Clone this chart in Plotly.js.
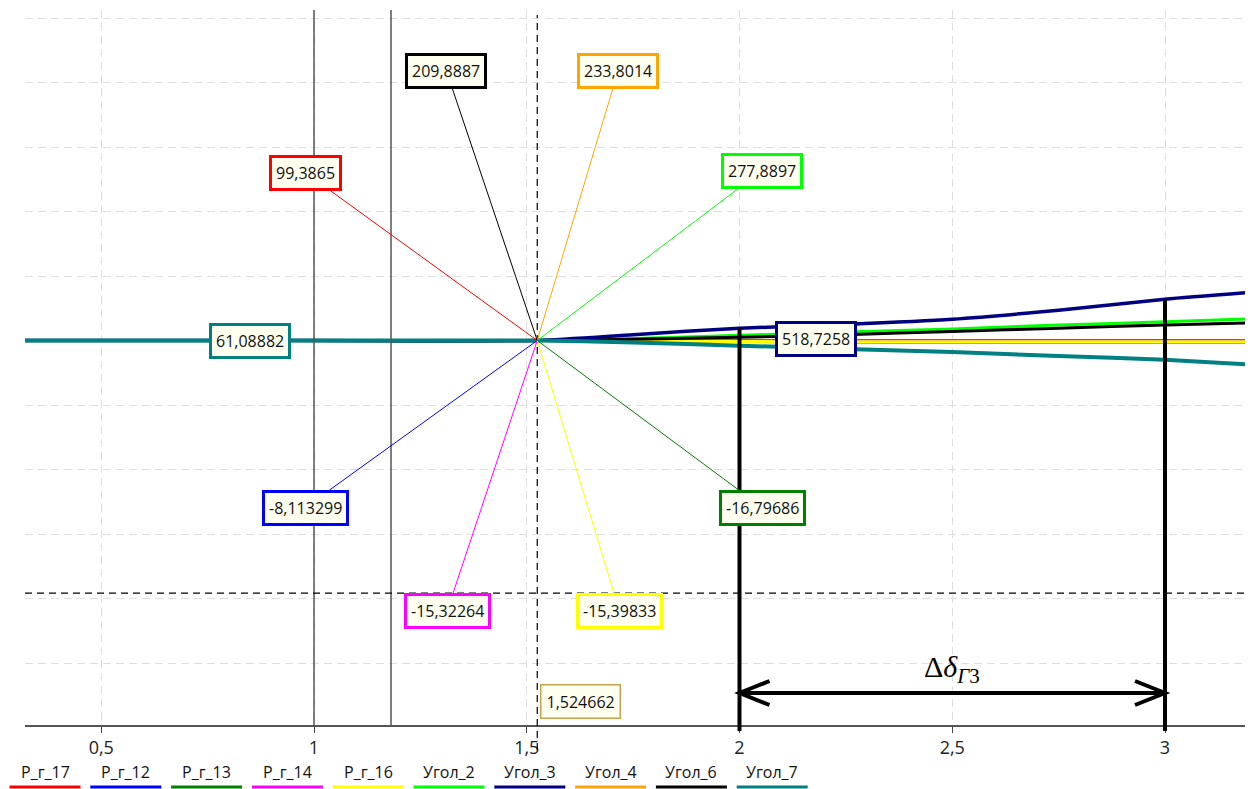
<!DOCTYPE html>
<html><head><meta charset="utf-8">
<script src="https://cdn.plot.ly/plotly-3.0.1.min.js"></script>
<style>html,body{margin:0;padding:0;background:#fff;overflow:hidden;} #chart{width:1251px;height:789px;}</style>
</head><body><div id="chart"></div>
<script>
// ---------- data ----------
const seriesNames  = ['Р_г_17','Р_г_12','Р_г_13','Р_г_14','Р_г_16','Угол_2','Угол_3','Угол_4','Угол_6','Угол_7'];
const seriesColors = ['#ff0000','#0000ff','#008000','#ff00ff','#ffff00','#00ff00','#000080','#ffa500','#000000','#008080'];
const xValues = [0.3, 1.0, 1.524662, 1.75, 2.0, 2.25, 2.5, 2.75, 3.0, 3.25];
const P_g_17 = [0, 0, 0, -0.01, -0.02, -0.03, -0.035, -0.035, -0.035, -0.035];
const P_g_12 = [0, 0, 0, 0, 0, 0, 0, 0, 0, 0];
const P_g_13 = [0, 0, 0, 0, 0, 0, 0, 0, 0, 0];
const P_g_14 = [0, 0, 0, 0, 0, 0, 0, 0, 0, 0];
const P_g_16 = [0, 0, 0, -0.01, -0.015, -0.02, -0.02, -0.02, -0.02, -0.02];
const Ugol_2 = [0, 0, 0, 0.03, 0.08, 0.13, 0.18, 0.24, 0.29, 0.35];
const Ugol_3 = [0, 0, 0, 0.09, 0.19, 0.25, 0.33, 0.47, 0.64, 0.77];
const Ugol_4 = [0, 0, 0, -0.015, -0.025, -0.03, -0.03, -0.03, -0.03, -0.03];
const Ugol_6 = [0, 0, 0, 0.02, 0.05, 0.09, 0.14, 0.19, 0.24, 0.28];
const Ugol_7 = [0, 0, 0, -0.03, -0.08, -0.13, -0.18, -0.24, -0.30, -0.39];
const seriesValues = [P_g_17, P_g_12, P_g_13, P_g_14, P_g_16, Ugol_2, Ugol_3, Ugol_4, Ugol_6, Ugol_7];
const cursorValues = ['99,3865','-8,113299','-16,79686','-15,32264','-15,39833','277,8897','518,7258','233,8014','209,8887','61,08882'];
const cursorX = 1.524662;
const cursorXLabel = '1,524662';
const cursorY = -3.915;
const markerLinesX = [1, 1.181];
const deltaLinesX = [2, 3];
const deltaArrowY = -5.465;
const deltaLabel = 'Δ<i>δ</i><sub><i>Γ</i>3</sub>';

// ---------- styling / layout ----------
const FONT = 'Open Sans, Noto Sans, sans-serif';
const lineWidths = [2, 2, 2, 2, 3, 3, 3.5, 2, 3, 4];
const drawOrder = [0, 1, 2, 3, 7, 4, 5, 8, 6, 9];
const calloutOffsets = [[-232,-168],[-232,167],[225,167],[-90,270],[82,270],[225,-170],[279,-2],[81,-270],[-91,-270],[-287,0]];
const hiddenArrow = [false,false,false,false,false,false,true,false,false,true];
const xRange = [0.3208, 3.188];
const yRange = [-5.961, 5.124];
const W = 1251, H = 789;
const plotL = 25, plotW = 1220, plotB = 725, plotH = 715;
const pxPerX = plotW / (xRange[1] - xRange[0]);
const pxPerY = plotH / (yRange[1] - yRange[0]);
const px2paperX = p => (p - plotL) / plotW;
const px2paperY = p => (plotB - p) / plotH;

const traces = drawOrder.map(i => ({
  type: 'scatter', mode: 'lines', name: seriesNames[i], x: xValues, y: seriesValues[i],
  line: {color: seriesColors[i], width: lineWidths[i], shape: 'spline', smoothing: 0.6},
  showlegend: false, hoverinfo: 'skip'
}));

const annotations = [];
seriesNames.forEach((n, i) => {
  annotations.push({
    x: cursorX, y: 0, xref: 'x', yref: 'y', text: cursorValues[i],
    showarrow: true, arrowhead: 0, arrowwidth: 1, standoff: 0,
    arrowcolor: hiddenArrow[i] ? 'rgba(0,0,0,0)' : seriesColors[i],
    ax: calloutOffsets[i][0], ay: calloutOffsets[i][1],
    bgcolor: '#fffff0', bordercolor: seriesColors[i], borderwidth: 3, borderpad: 4,
    font: {family: FONT, size: 16, color: '#111'}
  });
});
// cursor x readout
annotations.push({
  x: cursorX, y: -5.6, xref: 'x', yref: 'y', text: cursorXLabel, showarrow: false,
  xanchor: 'left', yanchor: 'middle', xshift: 3,
  bgcolor: '#fffff0', bordercolor: '#c8a050', borderwidth: 1.5, borderpad: 5,
  font: {family: FONT, size: 16, color: '#111'}
});
annotations.push({x: (deltaLinesX[0] + deltaLinesX[1]) / 2, y: -5.1, xref: 'x', yref: 'y', text: deltaLabel, showarrow: false,
  font: {family: 'Liberation Serif, DejaVu Serif, serif', size: 30, color: '#000'}});

const shapes = [];
markerLinesX.forEach(x => shapes.push({type: 'line', xref: 'x', yref: 'paper', x0: x, x1: x, y0: 0, y1: 1,
  line: {color: '#555', width: 1.5}}));
// cursor crosshair
shapes.push({type: 'line', xref: 'x', yref: 'paper', x0: cursorX, x1: cursorX, y0: px2paperY(750), y1: px2paperY(15),
  line: {color: '#000', width: 1.2, dash: '7px,5px'}});
shapes.push({type: 'line', xref: 'paper', yref: 'y', x0: 0, x1: 1, y0: cursorY, y1: cursorY,
  line: {color: '#000', width: 1.2, dash: '7px,5px'}});
// delta vertical lines up to the Угол_3 curve
deltaLinesX.forEach(x => {
  const idx = xValues.indexOf(x);
  shapes.push({type: 'line', xref: 'x', yref: 'y', x0: x, x1: x, y0: yRange[0], y1: Ugol_3[idx],
    line: {color: '#000', width: 4}});
  shapes.push({type: 'line', xref: 'x', yref: 'paper', x0: x, x1: x, y0: px2paperY(731), y1: 0,
    line: {color: '#000', width: 4}});
});
// double arrow between the delta lines
shapes.push({type: 'line', xref: 'x', yref: 'y', x0: deltaLinesX[0], x1: deltaLinesX[1], y0: deltaArrowY, y1: deltaArrowY,
  line: {color: '#000', width: 4}});
const hx = 30 / pxPerX, hy = 12 / pxPerY;
[[deltaLinesX[0], 1], [deltaLinesX[1], -1]].forEach(([x, s]) => {
  shapes.push({type: 'path', xref: 'x', yref: 'y',
    path: `M${x + s * hx},${deltaArrowY + hy} L${x},${deltaArrowY} L${x + s * hx},${deltaArrowY - hy}`,
    line: {color: '#000', width: 4}});
});
// custom legend: label above a coloured line
seriesNames.forEach((n, i) => {
  const x0 = 9.5 + 80.8 * i, x1 = x0 + 71;
  shapes.push({type: 'line', xref: 'paper', yref: 'paper', x0: px2paperX(x0), x1: px2paperX(x1),
    y0: px2paperY(787), y1: px2paperY(787), line: {color: seriesColors[i], width: 3}});
  annotations.push({xref: 'paper', yref: 'paper', x: px2paperX((x0 + x1) / 2), y: px2paperY(772),
    text: n, showarrow: false, xanchor: 'center', yanchor: 'middle',
    font: {family: FONT, size: 16, color: '#111'}});
});

const layout = {
  width: W, height: H,
  margin: {l: plotL, r: W - plotL - plotW, t: plotB - plotH, b: H - plotB, pad: 0},
  paper_bgcolor: '#fff', plot_bgcolor: '#fff',
  separators: ', ',
  showlegend: false,
  xaxis: {range: xRange, tick0: 0, dtick: 0.5, showgrid: true, gridcolor: '#dedede', griddash: '8px,5px', gridwidth: 1,
    zeroline: false, showline: true, linecolor: '#555', linewidth: 1.5, ticks: 'outside', ticklen: 6, tickcolor: '#444',
    tickfont: {family: FONT, size: 18, color: '#222'}},
  yaxis: {range: yRange, tick0: 0, dtick: 1, showgrid: true, gridcolor: '#dedede', griddash: '8px,5px', gridwidth: 1,
    zeroline: false, showline: false, showticklabels: false, ticks: ''},
  annotations: annotations,
  shapes: shapes
};

Plotly.newPlot('chart', traces, layout, {staticPlot: true, displayModeBar: false});
</script>
</body></html>
